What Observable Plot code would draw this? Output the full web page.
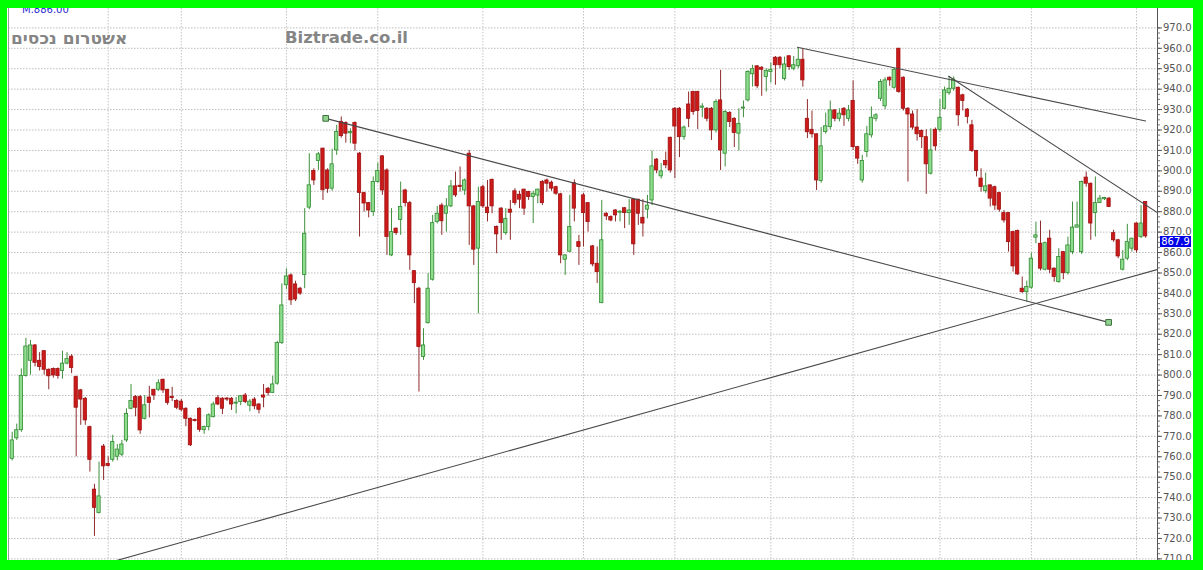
<!DOCTYPE html>
<html><head><meta charset="utf-8">
<script src="https://cdn.jsdelivr.net/npm/d3@7"></script>
<script src="https://cdn.jsdelivr.net/npm/@observablehq/plot@0.6"></script>
<style>
body{margin:0;background:#00ff00;}
#wrap{position:relative;width:1203px;height:570px;background:#00ff00;overflow:hidden;}
#chart{position:absolute;left:7px;top:8px;width:1186px;height:552px;background:#fff;overflow:hidden;}
#chart svg{display:block;}
.ov{position:absolute;white-space:nowrap;}
#sym{left:15px;top:-4px;font:10px "DejaVu Sans",sans-serif;color:#2a2ad0;}
#heb{left:4px;top:20px;font:bold 17px "DejaVu Sans",sans-serif;color:#858585;direction:rtl;}
#site{left:278px;top:20px;font:bold 16.5px "DejaVu Sans",sans-serif;color:#858585;}
#tag{position:absolute;background:#0000e8;color:#fff;font:10px "DejaVu Sans",sans-serif;text-align:center;line-height:11px;height:11px;}
</style></head><body>
<div id="wrap"><div id="chart"></div></div>
<script>
// ---- data (daily OHLC, in chart order) ----
const opens = [759,769,773,799.5,807,814.5,807,811.7,802.6,803,803,802,805.6,809,799,792.5,788.4,774.5,743.9,732.5,
765,756.5,758.5,760,761,768,783.5,789.2,789.2,778.6,789,792.8,792.8,797.7,792.8,789.2,787.3,787,783.5,778.6,
778,783.5,773,774.6,779.4,788.7,788.4,788.5,788.4,786,786.8,790,785,788,785.6,790,793.3,791.3,795.8,815.7,
844,848.8,844.4,842.3,849,882,899.9,904.8,910.9,900.2,891.3,910,924,923.4,918.5,923.4,908.4,889.1,884.2,879.8,
894.5,907.1,900.2,858.6,871.7,876,890.4,884.2,850.9,842.3,808.8,825.4,846.7,875,883,879,882.6,892.4,892.6,890.4,
908.4,882.6,861.9,892,882,895.6,872.5,881.5,869.5,881,890,888.3,890.8,889.6,887.2,887.9,894.5,895.3,894.2,892,
888.5,856.5,860.4,894,865.1,888,884.2,863,854.5,835.2,879,877.4,880.6,879.5,881.7,879.3,885.9,885.9,877,881,
885.5,905.5,897.3,904.8,916.2,930.4,930.4,916.6,932.5,938.6,938.6,931,930.4,930.4,919.8,934.5,908.4,928.3,925.5,918.2,
930.5,934.5,947.3,951.2,950.5,946,948.4,955.4,955.4,945,956.1,950,951.2,954.4,925.5,920.1,917.9,895,919,921.4,
929.6,925.5,930.4,925.5,934.2,911.6,895.3,909.2,917.4,925.5,935.3,931.6,945.6,940.7,959.8,945.6,930.4,927.6,921.2,919.5,
916.5,898.6,920.1,920.1,930.4,938,940.2,940.7,937,930,922.3,909.7,896.2,890.1,892.9,892,889.1,879.3,879.3,870,
870.5,842.3,840.6,842.8,867.3,864.3,851.6,866.8,852.1,845.5,860.2,849.9,860.2,872.2,860.2,896.7,893.7,879.3,884.2,886.2,
886.4,869.5,866,851.6,857,861.9,874.2,867.6,884.7];
const highs = [772,776,803,818,817,815,811,812,803,803.5,803.5,811.7,811,810,799.5,793,789,775,746.5,757.4,
766,760,770.5,766,768,783.5,795.4,790,790,790,794.5,793,797.7,798,793,794,788,788,784,779,
778.5,784,775,781,786.8,790,789,789,789,789,790,791,788,789,786,795.4,794,799.4,816.5,844.7,
852,849.5,846,843,881.5,908.4,901,909,911,901,910.6,922.3,926.4,924,920.6,924,909,889.5,884.5,897,
903.8,907.5,901,881.5,872,894.5,891,885,851,843,822.7,849.7,878.2,882.6,884,886.4,895.3,899.4,901.9,896,
910,883,892,893,895.3,896,873,882,881.5,885.5,891.3,890,891,890,890,891,895.3,896,895,892.5,
889,859,888,895.6,868.4,889,884.5,863.5,862.7,885.5,879.5,878,881,880.5,882,885.9,886,886,885.9,888,
909.7,906,903.5,909.2,916.5,931,931,922,938.6,939,939,932.9,931,931,934.9,949.2,929.5,929,926,930.4,
934.2,949,951.7,951.5,951,950,952.8,956,956,955.7,956.5,956,960.3,959.8,934.9,929.3,918,921.2,928.3,934.2,
930,930.4,931,932,944,912,907.6,921.8,931.3,928,944.7,945.6,946,950,960,946,931,929.3,930,920,
920.1,920.6,921,934.9,941,946.3,946,941,937.5,930.5,924.7,910,901,898.9,893,892.5,889.5,880.6,879.5,870.5,
871,848,846,859.7,874.9,875.4,865.1,870.9,852.5,861.9,860.5,867.6,884.7,884.7,895,899.4,894,897,888,887,
887,870.9,866.5,861,873.8,867,874.5,883,885];
const lows = [758,768,772,799,800,804,802,800,792.8,798.5,798,798,805,800.7,760,775.4,775.4,752.5,721,732,
748.4,755,757.4,758,760,767,783,779.6,771,778,779,787.6,792,791,785.2,787,783,782,774.7,765,
777,772,771,772.7,779,785,780.7,787,782.7,781,785,786,782,783,781,784,789.7,791,795,815,
841.8,834.1,836,839,842.3,881,892.9,900.2,885.5,889,890,907.6,916,913.6,913.3,909.7,867.6,879.8,877,877.7,
894,888,858.6,858,868.4,868.4,882.3,851.3,835,791.7,807.2,825,846,874,868.4,870,882,887,889.6,888,
863.5,853.7,830,881.6,875,879,859.4,866,868.4,866,883,881.5,878.2,885.5,874.2,883.9,883,889.6,890,888,
854.5,848.8,860,875,853.7,862.7,870,853,844.8,835,875.7,875,875,875,871.7,873.3,858.6,873.3,867.6,876.5,
883,898.6,896,901,898.9,896.2,906.5,915,921.2,927.2,920.2,926,924,914.9,918.5,900.2,901.9,921.2,911.4,909.7,
926,933.7,941,940.2,936.5,938.6,943,941.9,950,944,949.2,949,950,941,915.8,916,890.4,894,918,920,
924,924,921.8,924,910,903.2,894,906.5,916,924,934,930,941.4,940,938,929.3,894.5,920,914.6,910.9,
888.5,898,909.7,919,930,937,939,921.8,929.3,923,909,897,889.6,889,882.3,880.6,879.8,874.4,860.2,850.4,
848.8,840,835.7,842,864.3,851,851,849.6,845.5,845,846.7,849,859,872,859,892,866,867.6,884,885.5,
882,865,857,851,856,860.2,859.7,866.8,867];
const closes = [768,773,799.5,814,814.5,806,804,802.6,799.4,799.8,799.5,805.6,807.8,803.5,784,788,777.8,758.5,735,740.6,
755.3,755.5,767.2,763.5,766,781,787.3,784,772.9,785.2,786.4,790,796,792.5,786.4,788.8,784,783,778.6,765.6,
777.5,773.2,774.5,780.3,785.6,785.6,783.5,788,785.6,786.5,789.6,786.8,787,784.7,783,789,791.2,795.4,815.7,834.1,
848.3,836.6,837,839.9,869.2,892.9,895.3,908.1,890.5,891.2,903.2,919,917,918.2,918.9,913.3,889.2,884,880.6,894.5,
899.9,890.4,867.6,870,869.5,882.3,884.2,858.6,845,813.7,814.5,842.3,874.4,879,875.3,882.6,892.4,888,892.2,895.3,
882.6,861.4,884.7,882.6,879.3,882.6,868.9,874.4,876.5,879.5,884.2,885.9,881.5,887.2,888.8,890.8,884.2,893.7,891.3,888.8,
858.6,858.6,872.5,881.5,862.7,879.3,874.9,854.2,850.4,866,877.7,875.7,878.2,880,879.3,880.6,864,879,874.2,883,
902.2,900.2,899.7,902.7,900.2,921.7,916.5,921.2,925.5,928.8,929.3,931.4,925.5,919.8,933.7,910,928.8,923.9,918.5,923,
931,948.4,949.8,941.4,949.5,948.9,949.5,951.7,951.7,952.1,950.8,951.7,954.4,944.3,918.9,917.9,895.3,912,921.8,929.6,
925.5,928,927.2,929.6,911.6,906,904.8,917.9,926,927.2,943.5,944.3,944.3,949.5,938.6,930.4,927.6,921.2,917.9,916.5,
903.2,910,912,926,939.4,940.2,944.7,927.2,934.2,926.4,909.7,899.9,892.1,892.4,886.4,883,881,875.7,865.1,853.2,
849.3,840.6,843.1,857,868.4,852.1,864.6,851.6,848,857.8,849.9,863.5,872.2,873.3,894.5,893.7,874.2,884.2,886.4,886.6,
882.3,866,858.1,856.5,865.1,866.8,861.1,874.2,867.9];
// month-start sessions (vertical grid)
const monthStarts = [21,37,60,80,103,125,145,166,184,203,223,246];
// price axis ticks
const yTicks = d3.range(710, 971, 10);
const yMinor = d3.range(710, 972.5, 2.5);
// drawn trend lines: [session, price] end points
const trendA = [[68.6, 925.7], [239.9, 825.8]];
const trendB = [[23, 709.3], [250.6, 851.7]];
const trendC = [[171.8, 960.5], [248, 924.4]];
const trendD = [[204.9, 946.3], [250.6, 879.5]];
const lastPrice = 867.9;
const symbolLabel = "M.886.00";
const titleHe = "אשטרום נכסים";
const siteLabel = "Biztrade.co.il";

// ---- build ----
const candles = opens.map((o, i) => {
  let c = closes[i];
  if (Math.abs(o - c) < 0.5) { const m = (o + c) / 2; o = m + 0.3; c = m - 0.3; }
  return {i, o, c, h: highs[i], l: lows[i], up: closes[i] >= opens[i]};
});
const lines = [["A", trendA], ["B", trendB], ["C", trendC], ["D", trendD]]
  .flatMap(([id, pts]) => pts.map(([x, y]) => ({id, x, y})));
const markers = trendA.map(([x, y]) => ({x, y}));
const xDomain = [-0.81, 250.6];
const yDomain = [709.2, 979.5];

const plot = Plot.plot({
  width: 1186, height: 552,
  marginLeft: 1, marginRight: 36, marginTop: 0, marginBottom: 0,
  x: {domain: xDomain, axis: null},
  y: {domain: yDomain, axis: null},
  style: {fontFamily: "DejaVu Sans", fontSize: "10px", background: "#fff", overflow: "visible"},
  marks: [
    Plot.gridY(yTicks, {stroke: "#bdbdbd", strokeOpacity: 1, strokeDasharray: "1.5,1.5"}),
    Plot.gridX(monthStarts, {stroke: "#c4c4c4", strokeOpacity: 1, strokeDasharray: "1.5,1.5"}),
    Plot.ruleX(candles, {x: "i", y1: "l", y2: "h", stroke: d => d.up ? "#3f8f3f" : "#8e2b2b", strokeWidth: 1}),
    Plot.rect(candles, {x1: d => d.i - 0.36, x2: d => d.i + 0.36, y1: "o", y2: "c",
      fill: d => d.up ? "#8edc8e" : "#cc1a1a", stroke: d => d.up ? "#2f8a2f" : "#a01010", strokeWidth: 0.8}),
    Plot.line(lines, {x: "x", y: "y", z: "id", stroke: "#4a4a4a", strokeWidth: 1.1, clip: true}),
    Plot.dot(markers, {x: "x", y: "y", symbol: "square", r: 3.2, fill: "#90d490", stroke: "#3c6e3c", strokeWidth: 1}),
    Plot.ruleX([xDomain[0]], {stroke: "#9a9a9a"}),
    Plot.ruleX([xDomain[1]], {stroke: "#555"}),
    Plot.axisY(yMinor, {anchor: "right", tickSize: 2, text: null, stroke: "#777"}),
    Plot.axisY(yTicks, {anchor: "right", tickSize: 4, tickPadding: 1.5, tickFormat: d3.format(".1f"), fill: "#555", stroke: "#555"})
  ]
});
const chart = document.getElementById("chart");
chart.appendChild(plot);
const addDiv = (id, text) => { const d = document.createElement("div"); d.className = "ov"; d.id = id; d.textContent = text; chart.appendChild(d); return d; };
addDiv("sym", symbolLabel);
addDiv("heb", titleHe);
addDiv("site", siteLabel);
const ys = plot.scale("y").apply(lastPrice);
const xs = plot.scale("x").apply(xDomain[1]);
const tag = document.createElement("div");
tag.id = "tag"; tag.textContent = lastPrice.toFixed(1);
tag.style.left = (xs + 3) + "px"; tag.style.top = ys + "px"; tag.style.width = "31px";
chart.appendChild(tag);
</script>
</body></html>
